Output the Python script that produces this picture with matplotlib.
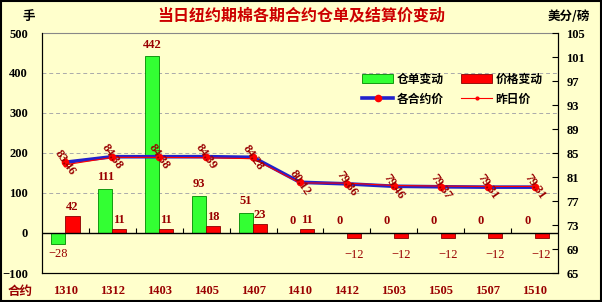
import matplotlib
matplotlib.use("Agg")
import numpy as np
import matplotlib.pyplot as plt
from matplotlib.patches import Rectangle

plt.rcParams['font.family'] = ['Liberation Serif', 'Noto Sans CJK SC', 'DejaVu Sans']
plt.rcParams['axes.unicode_minus'] = True

# ── Data ──────────────────────────────────────────────────────────────────────
contracts = ["1310", "1312", "1403", "1405", "1407", "1410",
             "1412", "1503", "1505", "1507", "1510"]
warrant_chg = [-28, 111, 442, 93, 51, 0, 0, 0, 0, 0, 0]
price_chg = [42, 11, 11, 18, 23, 11, -12, -12, -12, -12, -12]
settle = [83.46, 84.38, 84.38, 84.39, 84.28, 80.12, 79.86, 79.46, 79.37, 79.31, 79.31]
settle_prev = [83.04, 84.27, 84.27, 84.21, 84.05, 80.01, 79.98, 79.58, 79.49, 79.43, 79.43]

BG = "#FFFFCC"
DARKRED = "#990000"
CJK = ['Noto Sans CJK SC', 'DejaVu Sans']

# ── Plot ──────────────────────────────────────────────────────────────────────
fig = plt.figure(figsize=(6.02, 3.02), dpi=100, facecolor=BG)
fig.patches.append(Rectangle((0.002, 0.003), 0.996, 0.994, transform=fig.transFigure,
                             fill=False, edgecolor="black", lw=1.5))

ax = fig.add_axes([42 / 602, 1 - 273 / 302, 516 / 602, 240 / 302])
ax.set_facecolor(BG)
x = np.arange(len(contracts))
w = 0.3

b1 = ax.bar(x - w / 2, warrant_chg, w, color="#33FF33", edgecolor="#008800", lw=0.6,
            label="仓单变动", zorder=2)
b2 = ax.bar(x + w / 2, price_chg, w, color="#FF0000", edgecolor="#880000", lw=0.6,
            label="价格变动", zorder=2)

ax.set_xlim(-0.5, len(contracts) - 0.5)
ax.set_ylim(-100, 500)
ax.set_yticks(range(-100, 501, 100))
ax.set_yticklabels([f"{v}".replace("-", "\u2212") for v in range(-100, 501, 100)],
                   fontsize=9, fontweight="bold")
ax.tick_params(axis="y", length=0, pad=10)
for v in range(100, 501, 100):
    ax.axhline(v, color="#aaaaaa", ls=(0, (4, 3)), lw=0.7, zorder=1)
ax.axhline(0, color="black", lw=1, zorder=3)
ax.vlines(x[:-1] + 0.5, 0, 12, color="black", lw=0.8, zorder=3)

ax.set_xticks(x)
ax.set_xticklabels(contracts, fontsize=9, fontweight="bold", color=DARKRED)
ax.tick_params(axis="x", length=0, pad=9)

for sp in ["left", "bottom", "right"]:
    ax.spines[sp].set_color("black")
ax.spines["top"].set_color("#888888")

for rect, v in zip(b1, warrant_chg):
    cx = rect.get_x() + rect.get_width() / 2
    if v >= 0:
        ax.annotate(str(v), (cx, v), xytext=(0, 4), textcoords="offset points",
                    ha="center", va="bottom", fontsize=9, fontweight="bold", color=DARKRED)
    else:
        ax.annotate(str(v).replace("-", "\u2212"), (cx, v), xytext=(0, -3),
                    textcoords="offset points", ha="center", va="top",
                    fontsize=9, color=DARKRED)
for rect, v in zip(b2, price_chg):
    cx = rect.get_x() + rect.get_width() / 2
    if v >= 0:
        ax.annotate(str(v), (cx, v), xytext=(0, 2), textcoords="offset points",
                    ha="center", va="bottom", fontsize=9, fontweight="bold", color=DARKRED)
    else:
        ax.annotate(str(v).replace("-", "\u2212"), (cx, v), xytext=(0, -8),
                    textcoords="offset points", ha="center", va="top",
                    fontsize=9, color=DARKRED)

ax2 = ax.twinx()
ax2.set_ylim(65, 105)
ax2.set_yticks(range(65, 106, 4))
ax2.set_yticklabels([str(v) for v in range(65, 106, 4)], fontsize=9, fontweight="bold")
ax2.tick_params(axis="y", direction="in", length=4, pad=6)
ax2.spines["top"].set_visible(False)

l1, = ax2.plot(x, settle, color="#2222CC", lw=2.6, marker="o", ms=4.5,
               mfc="#FF0000", mec="#FF0000", label="各合约价", zorder=4)
l2, = ax2.plot(x, settle_prev, color="#FF0000", lw=0.8, marker="o", ms=2,
               mfc="#FF0000", mec="#FF0000", label="昨日价", zorder=5)

for xi, v in zip(x, settle):
    ax2.text(xi, v, f"{v:.2f}", rotation=-55, rotation_mode="anchor",
             ha="center", va="center", fontsize=9, fontweight="bold",
             color=DARKRED, zorder=6)

ax.legend([b1, l1, b2, l2], ["仓单变动", "各合约价", "价格变动", "昨日价"],
          ncol=2, loc="upper left", bbox_to_anchor=(0.6, 0.88), frameon=False,
          prop={"family": CJK, "weight": "bold", "size": 8.5},
          handlelength=2.6, handleheight=0.8, columnspacing=1.5, labelspacing=0.6,
          handletextpad=0.3)

fig.text(0.5, 1 - 16 / 302, "当日纽约期棉各期合约仓单及结算价变动", ha="center", va="center",
         fontsize=11.5, fontweight="bold", color="#CC0000", family=CJK)
fig.text(22 / 602, 1 - 16 / 302, "手", ha="left", va="center", fontsize=9,
         fontweight="bold", family=CJK)
fig.text(590 / 602, 1 - 16 / 302, "美分/磅", ha="right", va="center", fontsize=9,
         fontweight="bold", family=CJK)
fig.text(8 / 602, 1 - 291 / 302, "合约", ha="left", va="center", fontsize=9,
         fontweight="bold", color=DARKRED, family=CJK)

fig.savefig("out.png", dpi=100, facecolor=BG)
